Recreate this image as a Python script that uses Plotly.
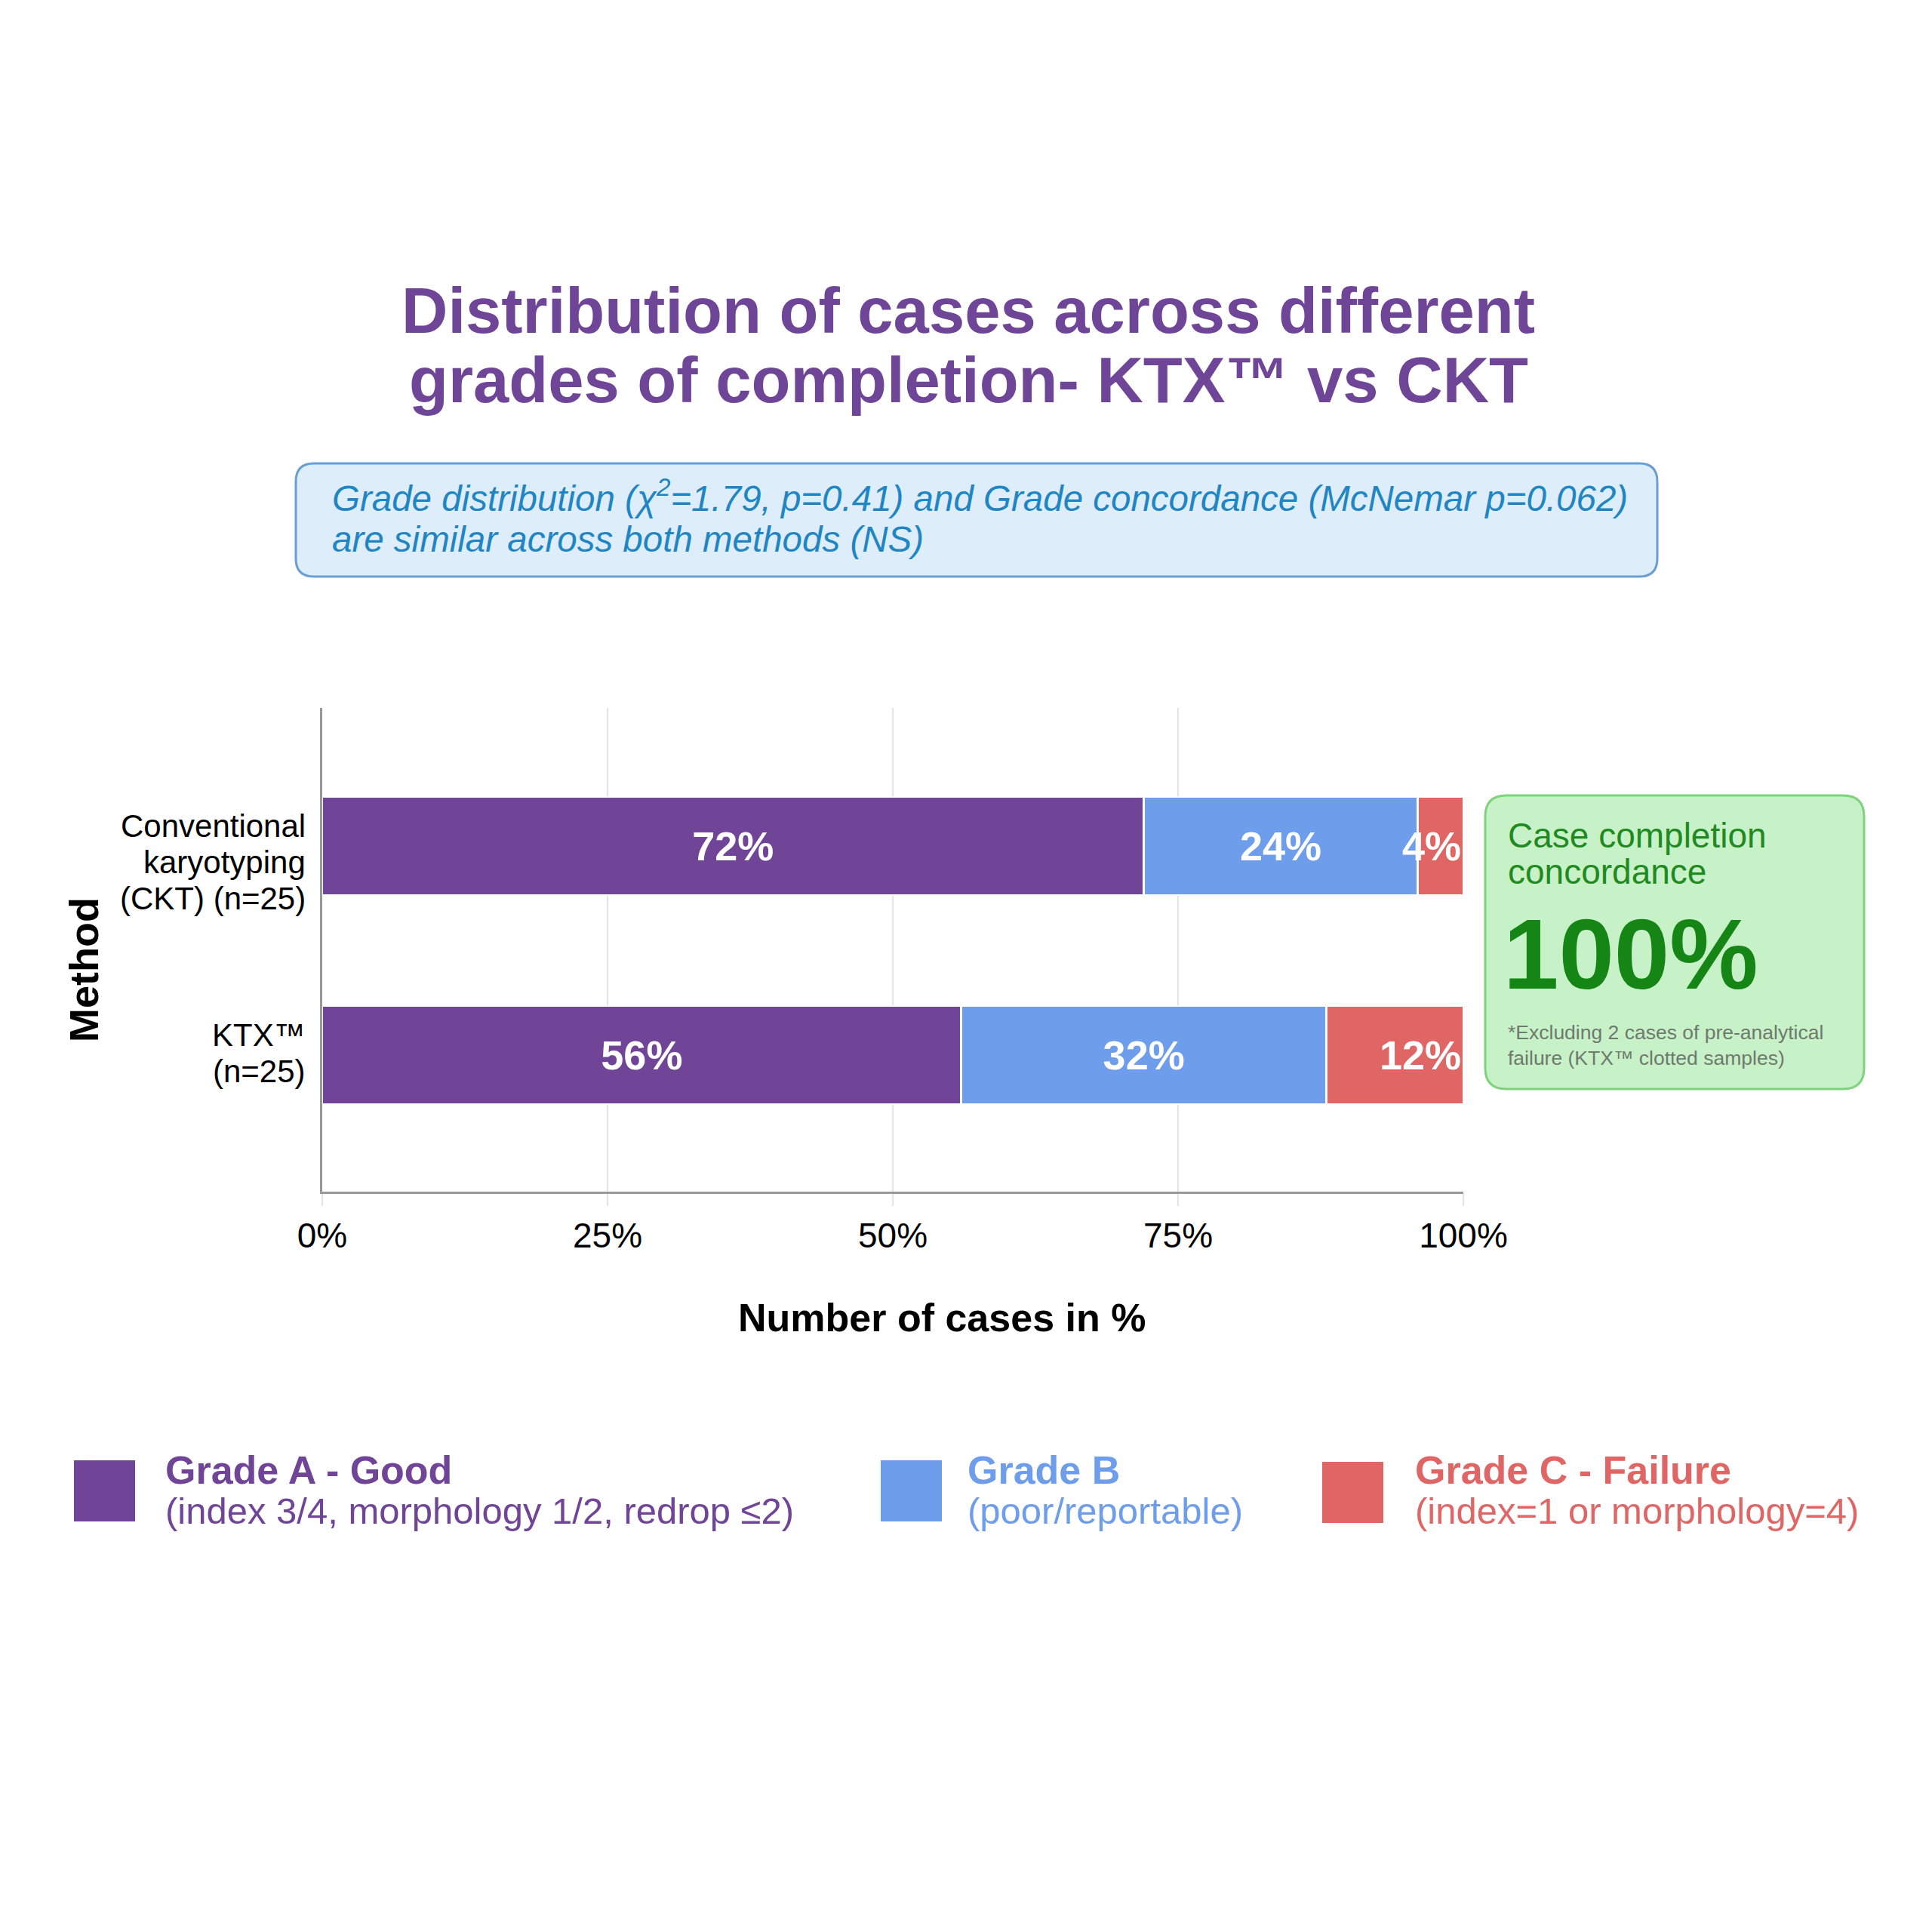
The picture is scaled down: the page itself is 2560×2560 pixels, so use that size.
import plotly.graph_objects as go

# data
methods = ["KTX\u2122<br>(n=25)", "Conventional<br>karyotyping<br>(CKT) (n=25)"]
grade_a = [56, 72]
grade_b = [32, 24]
grade_c = [12, 4]
grade_names = ["Grade A - Good", "Grade B", "Grade C - Failure"]
grade_notes = ["(index 3/4, morphology 1/2, redrop \u22642)", "(poor/reportable)", "(index=1 or morphology=4)"]
grade_colors = ["#704597", "#6d9deb", "#e06666"]
x_ticks = [0, 25, 50, 75, 100]
x_ticklabels = ["0%", "25%", "50%", "75%", "100%"]
concordance = "100%"

FONT = "Liberation Sans, Arial, Helvetica, sans-serif"
PURPLE = "#6f4598"

# page is drawn with an 8px body margin, positions below are page pixels
OFF = 8
W = H = 2560
L, R, T, B = 427, 1939, 938, 1579


def fx(p):
    return (p - L) / (R - L)


def fy(p):
    return (B - p) / (B - T)


def rounded_box(x0, y0, x1, y1, r):
    pts = [
        ("M", [(x0 + r, y0)]),
        ("L", [(x1 - r, y0)]),
        ("Q", [(x1, y0), (x1, y0 + r)]),
        ("L", [(x1, y1 - r)]),
        ("Q", [(x1, y1), (x1 - r, y1)]),
        ("L", [(x0 + r, y1)]),
        ("Q", [(x0, y1), (x0, y1 - r)]),
        ("L", [(x0, y0 + r)]),
        ("Q", [(x0, y0), (x0 + r, y0)]),
    ]
    path = ""
    for cmd, coords in pts:
        path += cmd + " ".join(f"{fx(a):.5f},{fy(b):.5f}" for a, b in coords) + " "
    return path + "Z"


def label(x, y, text, size, color, bold=False, italic=False, anchor="left", angle=0):
    if bold:
        text = f"<b>{text}</b>"
    if italic:
        text = f"<i>{text}</i>"
    return dict(x=fx(x), y=fy(y), xref="paper", yref="paper", text=text,
                showarrow=False, xanchor=anchor, yanchor="middle", align=anchor,
                textangle=angle, font=dict(family=FONT, size=size, color=color))


fig = go.Figure()

for vals, name, color in zip([grade_a, grade_b, grade_c], grade_names, grade_colors):
    fig.add_trace(go.Bar(
        y=methods, x=vals, orientation="h", name=name,
        marker=dict(color=color, line=dict(color="white", width=2.5)),
        texttemplate="<b>%{x}%</b>", textposition="inside",
        # the thin red segment gets its label pushed to the bar end so it stays readable
        insidetextanchor="end" if name.startswith("Grade C") else "middle",
        textangle=0, constraintext="none", cliponaxis=False,
        textfont=dict(family=FONT, size=54, color="white"),
        showlegend=False, hoverinfo="skip",
    ))

shapes = []
annotations = []

# category labels, right aligned next to the axis, tighter line spacing than ticks allow
for m in methods:
    for i, line in enumerate(m.split("<br>")):
        annotations.append(dict(x=fx(407), xref="paper", y=m, yref="y", text=line, showarrow=False,
                                xanchor="right", yanchor="middle", align="right", yshift=27 - 48 * i,
                                font=dict(family=FONT, size=42, color="black")))

# title
annotations.append(label(1283, 411, "Distribution of cases across different", 85, PURPLE, bold=True, anchor="center"))
annotations.append(label(1283, 503, "grades of completion- KTX\u2122 vs CKT", 85, PURPLE, bold=True, anchor="center"))

# stats box
shapes.append(dict(type="path", xref="paper", yref="paper", path=rounded_box(392, 614, 2196, 764, 24),
                   fillcolor="#ddedf9", line=dict(color="#6a9fd4", width=3), layer="below"))
annotations.append(label(438, 657, "Grade distribution (\u03c7<sup>2</sup>=1.79, p=0.41) and Grade concordance (McNemar p=0.062)",
                         47.5, "#1f86c3", italic=True))
annotations.append(label(438, 714, "are similar across both methods (NS)", 47.5, "#1f86c3", italic=True))

# axis titles
annotations.append(label(111, 1285, "Method", 54, "black", bold=True, anchor="center", angle=-90))
annotations.append(label(1248, 1746, "Number of cases in %", 52, "black", bold=True, anchor="center"))

# concordance box
shapes.append(dict(type="path", xref="paper", yref="paper", path=rounded_box(1968, 1054, 2470, 1443, 28),
                   fillcolor="#c7f1c7", line=dict(color="#7fd37f", width=3), layer="below"))
annotations.append(label(1996, 1107, "Case completion", 46, "#1f8a1f"))
annotations.append(label(1996, 1155, "concordance", 46, "#1f8a1f"))
annotations.append(label(1990, 1264, concordance, 132, "#158515", bold=True))
annotations.append(label(1996, 1385, "*Excluding 2 cases of pre-analytical<br>failure (KTX\u2122 clotted samples)",
                         26.5, "#6e7a6e"))

# legend drawn by hand (big swatches, two-line labels)
legend_sq = [(98, 1935), (1167, 1935), (1752, 1937)]
legend_tx = [217, 1280, 1873]
for (sx, sy), tx, name, note, color in zip(legend_sq, legend_tx, grade_names, grade_notes, grade_colors):
    shapes.append(dict(type="rect", xref="paper", yref="paper", x0=fx(sx), x1=fx(sx + 81),
                       y0=fy(sy), y1=fy(sy + 81), fillcolor=color, line=dict(width=0)))
    annotations.append(label(tx, 1948, name, 52, color, bold=True))
    annotations.append(label(tx, 2002, note, 49, color))

fig.update_layout(
    barmode="stack",
    bargap=0.53,
    width=W - 2 * OFF, height=H - 2 * OFF,
    margin=dict(l=L - OFF, r=W - OFF - R, t=T - OFF, b=H - OFF - B, pad=0),
    plot_bgcolor="white", paper_bgcolor="white",
    font=dict(family=FONT, color="black"),
    shapes=shapes,
    annotations=annotations,
    xaxis=dict(
        range=[0, 100], tickvals=x_ticks, ticktext=x_ticklabels,
        tickfont=dict(size=46, color="black"),
        showgrid=True, gridcolor="#e3e3e3", gridwidth=2,
        ticks="outside", ticklen=16, tickcolor="#e3e3e3", tickwidth=2,
        showline=True, linecolor="#999999", linewidth=3,
        zeroline=False, fixedrange=True,
    ),
    yaxis=dict(
        range=[-0.653, 1.661], showticklabels=False,
        showline=True, linecolor="#999999", linewidth=3,
        showgrid=False, zeroline=False, ticks="",
    ),
)

fig.write_html("out.html")
